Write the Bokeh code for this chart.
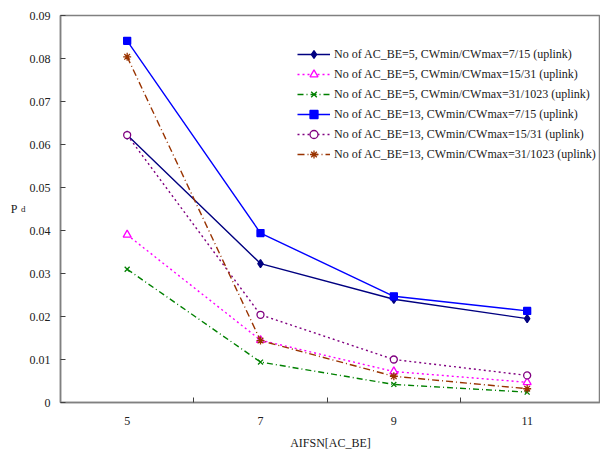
from bokeh.plotting import figure
from bokeh.models import FixedTicker, Range1d, LinearAxis
from bokeh.embed import file_html
from bokeh.resources import INLINE

aifsn = [5, 7, 9, 11]
be5_7_15 = [0.0622, 0.0323, 0.0240, 0.0195]
be5_15_31 = [0.0390, 0.0145, 0.0072, 0.0047]
be5_31_1023 = [0.0310, 0.0094, 0.0042, 0.0024]
be13_7_15 = [0.0841, 0.0394, 0.0247, 0.0213]
be13_15_31 = [0.0622, 0.0204, 0.0100, 0.0063]
be13_31_1023 = [0.0804, 0.0144, 0.0061, 0.0032]

names = [
    "No of AC_BE=5, CWmin/CWmax=7/15 (uplink)",
    "No of AC_BE=5, CWmin/CWmax=15/31 (uplink)",
    "No of AC_BE=5, CWmin/CWmax=31/1023 (uplink)",
    "No of AC_BE=13, CWmin/CWmax=7/15 (uplink)",
    "No of AC_BE=13, CWmin/CWmax=15/31 (uplink)",
    "No of AC_BE=13, CWmin/CWmax=31/1023 (uplink)",
]
series = [be5_7_15, be5_15_31, be5_31_1023, be13_7_15, be13_15_31, be13_31_1023]
y_ticks = [0, 0.01, 0.02, 0.03, 0.04, 0.05, 0.06, 0.07, 0.08, 0.09]
x_minor = [6, 8, 10]

styles = [
    dict(color="#000080", dash="solid", marker="diamond", size=8, fill="#000080"),
    dict(color="#FF00FF", dash="2 3", marker="triangle", size=8, fill="white"),
    dict(color="#008000", dash="6 3 1 3", marker="x", size=7, fill="#008000"),
    dict(color="#0000FF", dash="solid", marker="square", size=7, fill="#0000FF"),
    dict(color="#800080", dash="2 3", marker="circle", size=7, fill="white"),
    dict(color="#993300", dash="7 3 1 3", marker="asterisk", size=8, fill="#993300"),
]

FONT = "Liberation Serif"

p = figure(width=600, height=452, output_backend="svg", toolbar_location=None,
           x_range=Range1d(4.0, 12.1), y_range=Range1d(0, 0.09),
           min_border_left=60, min_border_right=0, min_border_top=15, min_border_bottom=49)
p.background_fill_color = "white"
p.border_fill_color = "white"
p.outline_line_color = "#808080"
p.outline_line_width = 1.5
p.xgrid.visible = False
p.ygrid.visible = False

for name, ys, st in zip(names, series, styles):
    p.line(aifsn, ys, line_color=st["color"], line_dash=st["dash"], line_width=1.4,
           legend_label=name)
    p.scatter(aifsn, ys, marker=st["marker"], size=st["size"], line_color=st["color"],
              fill_color=st["fill"], line_width=1.3, legend_label=name)

xa = p.xaxis[0]
xa.ticker = FixedTicker(ticks=aifsn, minor_ticks=x_minor)
xa.major_tick_in = 0
xa.major_tick_out = 0
xa.minor_tick_in = 5
xa.minor_tick_out = 0
xa.minor_tick_line_color = "#404040"
xa.axis_line_color = "#808080"
xa.axis_line_width = 1.5
xa.major_label_text_font = FONT
xa.major_label_text_font_size = "12px"
xa.major_label_text_color = "#202020"
xa.major_label_standoff = 14
xa.axis_label = "AIFSN[AC_BE]"
xa.axis_label_text_font = FONT
xa.axis_label_text_font_size = "12px"
xa.axis_label_text_font_style = "normal"
xa.axis_label_text_color = "#202020"
xa.axis_label_standoff = 8

ya = p.yaxis[0]
ya.ticker = FixedTicker(ticks=y_ticks)
ya.major_label_overrides = {0: "0"}
ya.major_tick_in = 5
ya.major_tick_out = 0
ya.minor_tick_in = 0
ya.minor_tick_out = 0
ya.major_tick_line_color = "#404040"
ya.axis_line_color = "#808080"
ya.axis_line_width = 1.5
ya.major_label_text_font = FONT
ya.major_label_text_font_size = "12px"
ya.major_label_text_color = "#202020"
ya.major_label_standoff = 10
ya.axis_label = "d"
ya.axis_label_orientation = "horizontal"
ya.axis_label_text_font = FONT
ya.axis_label_text_font_size = "9px"
ya.axis_label_text_font_style = "normal"
ya.axis_label_text_color = "#202020"
ya.axis_label_standoff = 1

pa = LinearAxis(ticker=FixedTicker(ticks=[]), axis_line_color=None,
                major_tick_line_color=None, minor_tick_line_color=None,
                major_label_text_font_size="0px",
                axis_label="P", axis_label_orientation="horizontal",
                axis_label_text_font=FONT, axis_label_text_font_size="12px",
                axis_label_text_font_style="normal", axis_label_text_color="#202020",
                axis_label_standoff=0)
p.add_layout(pa, "left")

lg = p.legend[0]
lg.location = (237, 238)
lg.padding = 0
lg.margin = 0
lg.spacing = 0
lg.glyph_width = 33
lg.glyph_height = 20
lg.label_standoff = 4
lg.label_text_font = FONT
lg.label_text_font_size = "12px"
lg.label_text_color = "#202020"
lg.background_fill_alpha = 0
lg.border_line_alpha = 0

open("out.html", "w").write(file_html(p, INLINE))
